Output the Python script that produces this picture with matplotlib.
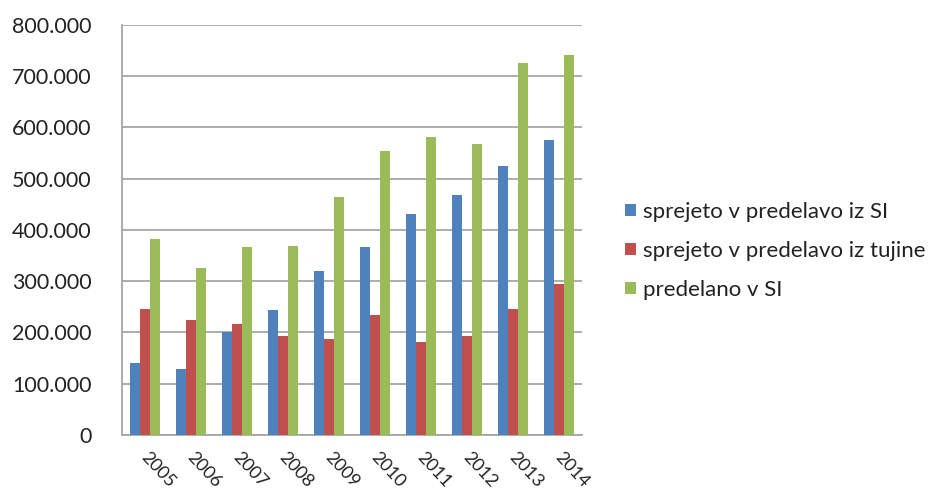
import numpy as np
import matplotlib
matplotlib.use('Agg')
import matplotlib.pyplot as plt
import matplotlib.transforms as mtransforms
from matplotlib.ticker import FuncFormatter, MultipleLocator

years = ['2005', '2006', '2007', '2008', '2009', '2010', '2011', '2012', '2013', '2014']
iz_si = [141000, 129000, 200000, 244000, 319000, 367000, 431000, 468000, 524000, 576000]
iz_tujine = [246000, 224000, 217000, 193000, 188000, 234000, 181000, 193000, 246000, 295000]
predelano = [382000, 325000, 367000, 369000, 465000, 555000, 581000, 568000, 725000, 742000]

labels = ['sprejeto v predelavo iz SI', 'sprejeto v predelavo iz tujine', 'predelano v SI']
colors = ['#4F81BD', '#C0504D', '#9BBB59']

plt.rcParams['font.family'] = ['Lato', 'DejaVu Sans']

fig = plt.figure(figsize=(9.29, 4.92), dpi=100)
ax = fig.add_axes([0.1313, 0.1159, 0.4952, 0.8333])

x = np.arange(len(years))
w = 0.22
for i, (vals, lab, col) in enumerate(zip([iz_si, iz_tujine, predelano], labels, colors)):
    ax.bar(x + (i - 1) * w, vals, width=w, color=col, label=lab, zorder=3)

ax.set_xlim(-0.5, len(years) - 0.5)
ax.set_ylim(0, 800000)
ax.yaxis.set_major_locator(MultipleLocator(100000))
ax.yaxis.set_major_formatter(FuncFormatter(lambda v, p: f'{int(v):,}'.replace(',', '.')))
ax.grid(axis='y', color='#A6A6A6', linewidth=1.3, zorder=0)

for s in ['top', 'right']:
    ax.spines[s].set_visible(False)
for s in ['left', 'bottom']:
    ax.spines[s].set_color('#A6A6A6')
    ax.spines[s].set_linewidth(1.3)

ax.tick_params(axis='y', length=0, pad=22, labelsize=15.5, labelcolor='#222222')
ax.tick_params(axis='x', length=0, pad=10, labelsize=13, labelcolor='#222222')
ax.set_xticks(x)
ax.set_xticklabels(years, rotation=-47, ha='left', rotation_mode='anchor')
shift = mtransforms.ScaledTranslation(5 / 100, 0, fig.dpi_scale_trans)
for lbl in ax.get_xticklabels():
    lbl.set_transform(lbl.get_transform() + shift)

ax.legend(loc='center left', bbox_to_anchor=(1.0935, 0.449), frameon=False,
          fontsize=16, handlelength=0.5, handleheight=0.5, handletextpad=0.3,
          labelspacing=0.85, borderaxespad=0, borderpad=0, labelcolor='#222222')

fig.savefig('out.png', dpi=100)
